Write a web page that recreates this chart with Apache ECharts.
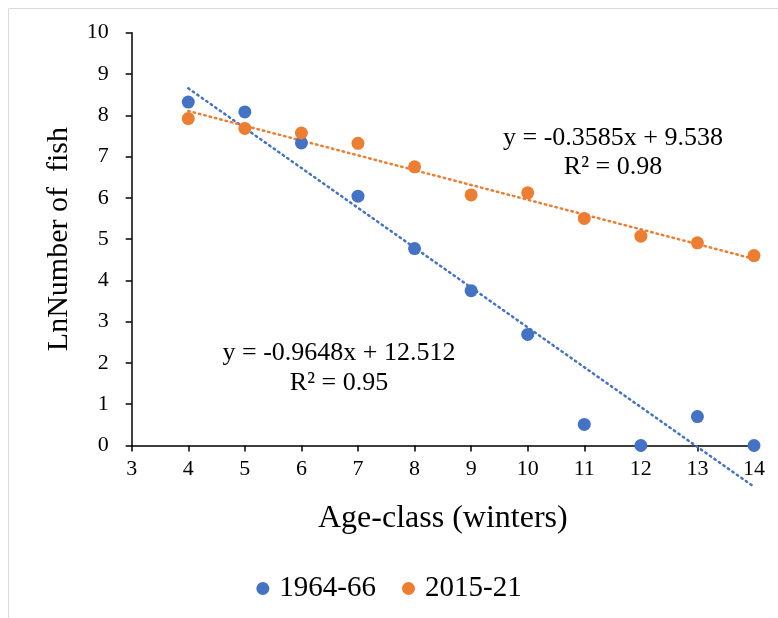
<!DOCTYPE html>
<html><head><meta charset="utf-8">
<script src="https://cdn.jsdelivr.net/npm/echarts@6/dist/echarts.min.js"></script>
<style>html,body{margin:0;padding:0;background:#fff}#c{width:778px;height:618px}</style>
</head><body><div id="c"></div>
<script>
const ageClasses = [4,5,6,7,8,9,10,11,12,13,14];
const series1964 = [8.32,8.08,7.33,6.04,4.77,3.75,2.69,0.51,0,0.70,0];
const series2015 = [7.92,7.68,7.57,7.32,6.75,6.07,6.12,5.50,5.07,4.91,4.60];
const trend1964 = [[4,8.653],[14,-1.000]];
const trend2015 = [[4,8.104],[14,4.519]];
const label1964 = ['y = -0.9648x + 12.512','R² = 0.95'];
const label2015 = ['y = -0.3585x + 9.538','R² = 0.98'];
const xTicks = [3,14,1];
const yTicks = [0,10,1];
const legendNames = ['1964-66','2015-21'];

const blue = '#4472C4', orange = '#ED7D31';
const font = '"Liberation Serif","Times New Roman",serif';
const chart = echarts.init(document.getElementById('c'));
const pts = arr => ageClasses.map((a,i)=>[a,arr[i]]);
const txt = (x,y,t) => ({type:'text',x:x,y:y,style:{text:t,font:'26px '+font,fill:'#000',align:'center',verticalAlign:'middle'}});
chart.setOption({
  animation:false,
  graphic:[
    {type:'rect',shape:{x:8.5,y:8.5,width:800,height:700},style:{fill:'none',stroke:'#d9d9d9',lineWidth:1},silent:true,z:-10},
    txt(613,138,label2015[0]), txt(613,167,label2015[1]),
    txt(339,353,label1964[0]), txt(339,383,label1964[1])
  ],
  grid:{left:131.7,right:24,top:32.7,bottom:172.5},
  xAxis:{type:'value',min:xTicks[0],max:xTicks[1],interval:xTicks[2],
    name:'Age-class (winters)',nameLocation:'middle',nameGap:57,
    nameTextStyle:{fontFamily:font,fontSize:32,color:'#000'},
    axisLine:{onZero:false,lineStyle:{color:'#000',width:1.5}},
    axisTick:{show:true,length:6,lineStyle:{color:'#000',width:1.5}},
    axisLabel:{fontFamily:font,fontSize:22,color:'#000',margin:13},
    splitLine:{show:false}},
  yAxis:{type:'value',min:yTicks[0],max:yTicks[1],interval:yTicks[2],
    name:'LnNumber of  fish',nameLocation:'middle',nameGap:58,
    nameTextStyle:{fontFamily:font,fontSize:30,color:'#000'},
    axisLine:{show:true,lineStyle:{color:'#000',width:1.5}},
    axisTick:{show:true,length:6,lineStyle:{color:'#000',width:1.5}},
    axisLabel:{fontFamily:font,fontSize:22,color:'#000',margin:23},
    splitLine:{show:false}},
  legend:{data:legendNames.map(n=>({name:n,icon:'circle'})),top:569,left:'center',
    itemWidth:13,itemHeight:13,itemGap:26,
    textStyle:{fontFamily:font,fontSize:29,color:'#000',padding:[0,0,0,5]}},
  series:[
    {name:legendNames[0],type:'scatter',data:pts(series1964),symbolSize:13,itemStyle:{color:blue,opacity:1},z:5},
    {name:legendNames[1],type:'scatter',data:pts(series2015),symbolSize:13,itemStyle:{color:orange,opacity:1},z:5},
    {type:'line',data:trend1964,showSymbol:false,clip:false,lineStyle:{color:blue,width:2.5,type:[1.5,4],cap:'round'},silent:true,z:3},
    {type:'line',data:trend2015,showSymbol:false,clip:false,lineStyle:{color:orange,width:2.5,type:[1.5,4],cap:'round'},silent:true,z:3}
  ]
});
</script></body></html>
